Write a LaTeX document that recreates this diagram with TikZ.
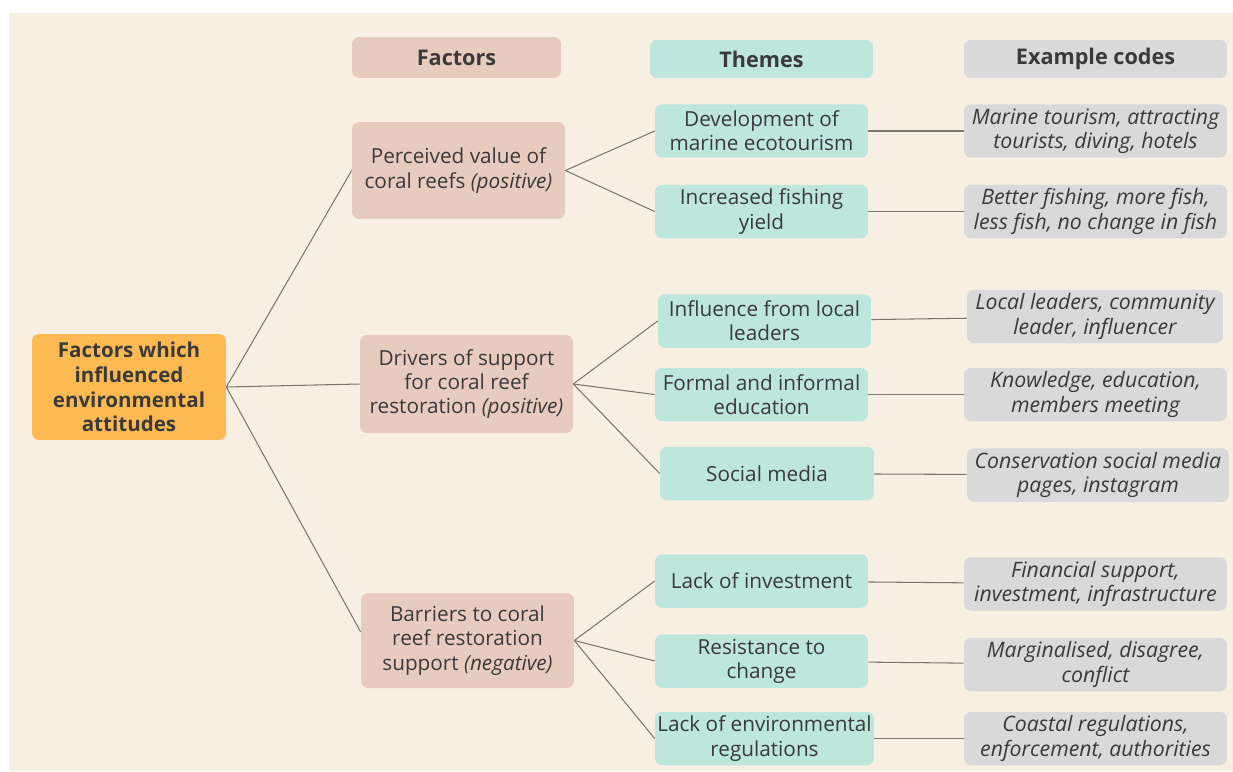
\documentclass[tikz,border=0pt]{standalone}
\usepackage{fontspec}
\setmainfont{Open Sans}
\definecolor{cream}{HTML}{F7F0E2}
\definecolor{rootorange}{HTML}{FDB952}
\definecolor{factorpink}{HTML}{E8CBBF}
\definecolor{themeteal}{HTML}{BDE6DD}
\definecolor{codegray}{HTML}{D9D9D9}
\definecolor{ink}{HTML}{3A3A3A}
\definecolor{linkgray}{HTML}{7A7670}
\tikzset{
  box/.style={rounded corners=4pt, align=center, text=ink, inner sep=0pt,
    font=\fontsize{11.8}{13.8}\selectfont},
  rootbox/.style={box, fill=rootorange, minimum width=3.88cm, minimum height=2.12cm,
    font=\fontsize{11.7}{14}\selectfont\bfseries},
  factorbox/.style={box, fill=factorpink, minimum width=4.26cm, minimum height=1.94cm},
  themebox/.style={box, fill=themeteal, minimum width=4.26cm, minimum height=1.07cm},
  codebox/.style={box, fill=codegray, minimum width=5.26cm, minimum height=1.07cm,
    font=\fontsize{12.1}{13.8}\selectfont\itshape},
  headbox/.style={box, minimum height=0.77cm, font=\fontsize{12.3}{13.8}\selectfont\bfseries},
  link/.style={draw=linkgray, line width=0.6pt}
}
\begin{document}
\begin{tikzpicture}[x=0.02cm, y=-0.02cm]
  % frame and background
  \useasboundingbox (0,0) rectangle (1233,771);
  \fill[cream] (9,13) rectangle (1233,771);

  % column headings
  \node[headbox, fill=factorpink, minimum width=4.18cm, minimum height=0.82cm] (hfactors) at (456.5,57.5) {Factors};
  \node[headbox, fill=themeteal, minimum width=4.46cm] (hthemes) at (761.5,59) {Themes};
  \node[headbox, fill=codegray, minimum width=5.26cm] (hcodes) at (1095.5,59) {Example codes};

  % root
  \node[rootbox] (root) at (129,387) {Factors which\\influenced\\environmental\\attitudes};

  % factors
  \node[factorbox] (value) at (458.5,170.5) {Perceived value of\\coral reefs \textit{(positive)}};
  \node[factorbox, minimum height=1.96cm] (drivers) at (466.5,384) {Drivers of support\\for coral reef\\restoration \textit{(positive)}};
  \node[factorbox, minimum height=1.90cm] (barriers) at (467.5,640.5) {Barriers to coral\\reef restoration\\support \textit{(negative)}};

  % themes
  \node[themebox] (ecotourism) at (761.5,131) {Development of\\marine ecotourism};
  \node[themebox] (fishing) at (761.5,211.5) {Increased fishing\\yield};
  \node[themebox] (leaders) at (764.5,321) {Influence from local\\leaders};
  \node[themebox] (education) at (761.5,394.5) {Formal and informal\\education};
  \node[themebox, minimum width=4.28cm] (socialmedia) at (767,473.5) {Social media};
  \node[themebox] (investment) at (761.5,581) {Lack of investment};
  \node[themebox] (resistance) at (761.5,661) {Resistance to\\change};
  \node[themebox, minimum width=4.38cm] (regulations) at (764.5,738.5) {Lack of environmental\\regulations};

  % example codes
  \node[codebox] (ctourism) at (1095.5,131) {Marine tourism, attracting\\tourists, diving, hotels};
  \node[codebox] (cfish) at (1095.5,211.5) {Better fishing, more fish,\\less fish, no change in fish};
  \node[codebox, minimum width=5.12cm] (cleaders) at (1095,316.5) {Local leaders, community\\leader, influencer};
  \node[codebox] (cknowledge) at (1095.5,394.5) {Knowledge, education,\\members meeting};
  \node[codebox, minimum width=5.24cm] (cpages) at (1098,475) {Conservation social media\\pages, instagram};
  \node[codebox] (csupport) at (1095.5,584) {Financial support,\\investment, infrastructure};
  \node[codebox] (cconflict) at (1095.5,664.5) {Marginalised, disagree,\\conflict};
  \node[codebox] (cauthorities) at (1095.5,738.5) {Coastal regulations,\\enforcement, authorities};

  % root to factors
  \draw[link] (root.east) -- (value.west);
  \draw[link] (root.east) -- (drivers.west);
  \draw[link] (root.east) -- ([yshift=0.17cm]barriers.west);

  % factors to themes
  \foreach \t in {ecotourism, fishing}
    \draw[link] (value.east) -- (\t.west);
  \foreach \t in {leaders, education, socialmedia}
    \draw[link] (drivers.east) -- (\t.west);
  \foreach \t in {investment, resistance, regulations}
    \draw[link] (barriers.east) -- (\t.west);

  % themes to codes
  \draw[link] (ecotourism) -- (ctourism);
  \draw[link] (fishing) -- (cfish);
  \draw[link] (leaders) -- (cleaders);
  \draw[link] (education) -- (cknowledge);
  \draw[link] (socialmedia) -- (cpages);
  \draw[link] (investment) -- (csupport);
  \draw[link] (resistance) -- (cconflict);
  \draw[link] (regulations) -- (cauthorities);
\end{tikzpicture}
\end{document}
